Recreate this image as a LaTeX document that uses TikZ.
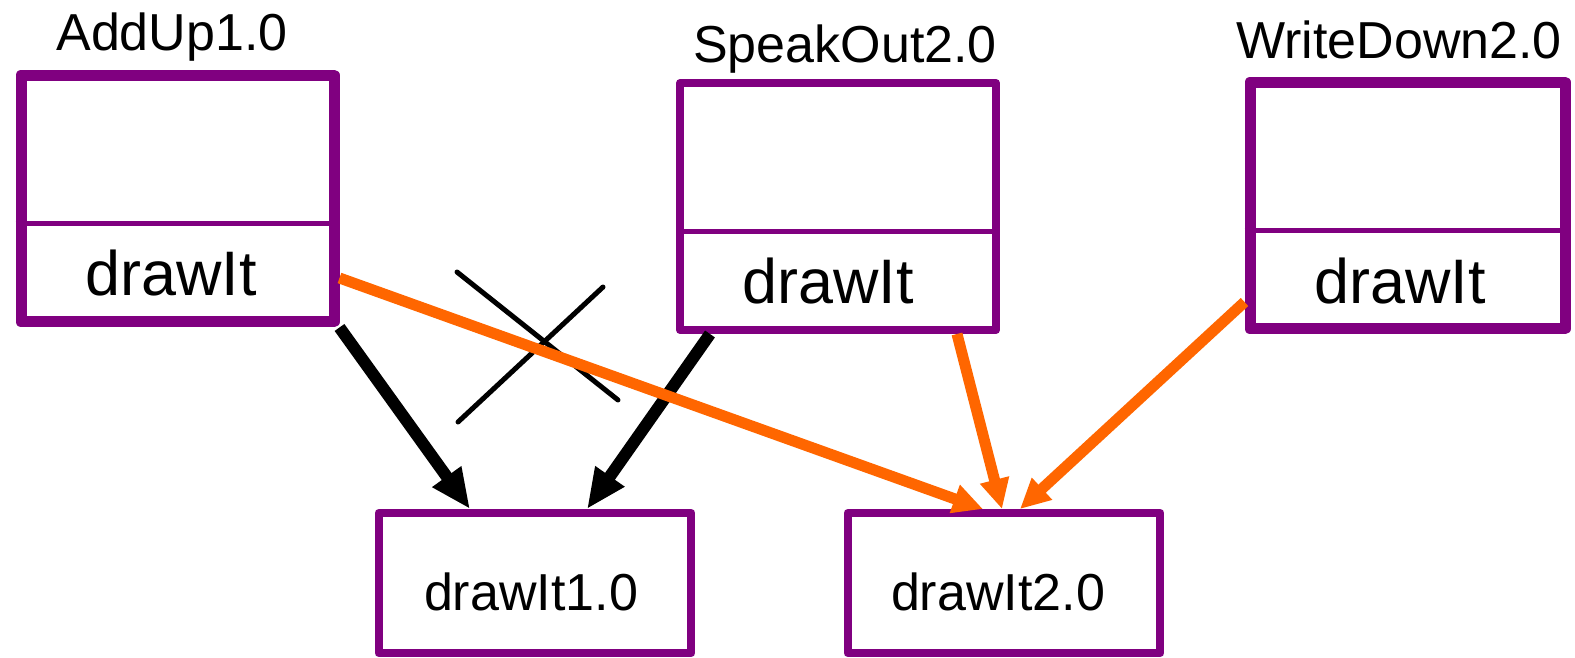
\documentclass[tikz,border=0pt]{standalone}
\usepackage{fontspec}
\setmainfont{Liberation Sans}
\usetikzlibrary{arrows.meta}
\usetikzlibrary{calc}
\definecolor{umlpurple}{RGB}{128,0,128}
\definecolor{calloranges}{RGB}{255,102,0}
\tikzset{class box/.style={draw=umlpurple,
                           fill=white,
                           line join=round,
                           inner sep=0pt,
                           minimum height=4.94cm}}
\tikzset{method box/.style={draw=umlpurple,
                            line width=0.16cm,
                            line join=round,
                            inner sep=0pt,
                            minimum width=6.26cm,
                            minimum height=2.8cm}}
\tikzset{call/.style={draw,
                      line width=0.24cm,
                      -{Triangle[length=0.8cm,width=0.66cm]}}}
\tikzset{new call/.style={draw=calloranges,
                          line width=0.22cm,
                          -{Triangle[length=0.6cm,width=0.56cm]}}}

\begin{document}
\begin{tikzpicture}
      [
      x=0.02cm,y=-0.02cm,
      title/.style={anchor=base,inner sep=0pt,
                    font=\fontsize{29.6}{34}\selectfont},
      op/.style={anchor=base,inner sep=0pt,
                 font=\fontsize{35.8}{41}\selectfont},
      cross mark/.style={draw,line width=0.1cm,line cap=round},
      ]

      \useasboundingbox (0,0) rectangle (1575,657);

      % classes
      \foreach \n/\v/\cx/\cy/\w/\lw/\d/\tx/\ty/\ox/\oy in
      {
      AddUp/1.0/177.5/198.5/313/11/223/172/50/171/295,
      SpeakOut/2.0/838/206.5/316/8/231/845/62/828/303,
      WriteDown/2.0/1407.5/205.5/315/11/230/1399/58/1400/303
      }
      {
      \node [class box,line width=\lw*0.02cm,minimum width=\w*0.02cm] (\n) at (\cx,\cy) {};
      \draw [umlpurple,line width=0.1cm] (\n.west |- 0,\d) -- (\n.east |- 0,\d);
      \node [title] (\n-name) at (\tx,\ty) {\n\v};
      \node [op] (\n-op) at (\ox,\oy) {drawIt};
      }

      % methods
      \node [method box] (drawIt1) at (535,583) {};
      \node [title] (drawIt1-name) at (531,610) {drawIt1.0};
      \node [method box] (drawIt2) at (1004,583) {};
      \node [title] (drawIt2-name) at (998,610) {drawIt2.0};

      % old calls
      \path [call] (AddUp.south east) -- (470,0 |- drawIt1.north);
      \path [call] (710,0 |- SpeakOut.south) -- (587,0 |- drawIt1.north);

      % crossed out
      \path [cross mark] (457,272) -- (618,400);
      \path [cross mark] (603,287) -- (458,422);

      % new calls
      \path [new call] (AddUp.east |- 0,278) -- (983,0 |- drawIt2.north);
      \path [new call] (957,0 |- SpeakOut.south) -- (1002,0 |- drawIt2.north);
      \path [new call] (WriteDown.west |- 0,302) -- (1020,0 |- drawIt2.north);

    \end{tikzpicture}
\end{document}
